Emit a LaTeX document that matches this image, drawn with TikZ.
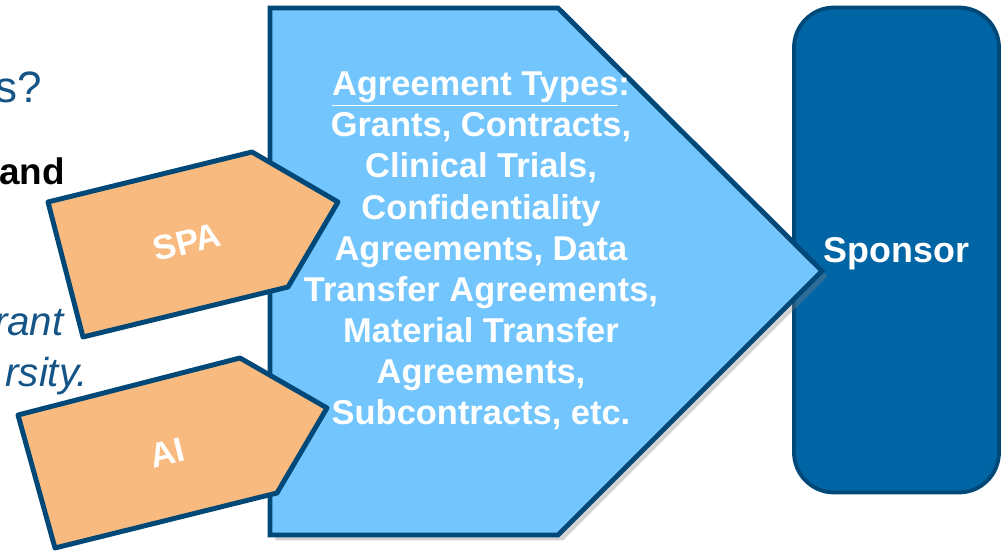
\documentclass[tikz,border=0pt]{standalone}
\usepackage{fontspec}
\setmainfont{Liberation Sans}
\usepackage{tikz}
\usetikzlibrary{shadows,positioning}
\definecolor{navy}{RGB}{0,72,120}
\definecolor{skyfill}{RGB}{115,198,253}
\definecolor{tabfill}{RGB}{248,186,126}
\definecolor{sponsorfill}{RGB}{0,101,164}
\definecolor{leadblue}{RGB}{20,84,134}

\begin{document}
\begin{tikzpicture}[x=0.02cm,y=-0.02cm,
  leadtext/.style={anchor=base east,inner sep=0pt,text=leadblue},
  bigarrow/.style={fill=skyfill,draw=navy,line width=2.8pt,
    drop shadow={shadow xshift=3pt,shadow yshift=-3pt,opacity=0.35}},
  tabshape/.style={fill=tabfill,draw=navy,line width=2.8pt,line join=round},
  whitetext/.style={text=white,font=\bfseries\fontsize{19.6}{23.4}\selectfont,align=center,inner sep=0pt},
  sponsorbox/.style={fill=sponsorfill,draw=navy,line width=2.2pt,rounded corners=0.8cm,
    minimum width=4.1cm,minimum height=9.7cm,text height=14.7pt,text depth=0pt,
    text=white,font=\bfseries\fontsize{20.4}{24}\selectfont}]
\useasboundingbox (0,0) rectangle (1002,553);

% text at the left, cut by the page edge
\node[leadtext,font=\fontsize{25}{30}\selectfont] (query) at (42,103) {s?};
\node[leadtext,text=black,font=\bfseries\fontsize{21}{25}\selectfont] (andword) at (65,185) {and};
\node[leadtext,font=\itshape\fontsize{23}{27}\selectfont] (grant) at (64,336) {rant};
\node[leadtext,font=\itshape\fontsize{23}{27}\selectfont] (univ) at (88,387) {rsity.};

% sponsor box
\node[sponsorbox] (sponsor) at (896.5,250) {Sponsor};

% big arrow with the agreement types
\draw[bigarrow] (270,8) -- (558,8) -- (822,271) -- (558,535) -- (270,535) -- cycle;
\node[whitetext] (types) at (481,251) {\underline{Agreement Types}:\\ Grants, Contracts,\\ Clinical Trials,\\
  Confidentiality\\ Agreements, Data\\ Transfer Agreements,\\ Material Transfer\\ Agreements,\\ Subcontracts, etc.};

% the two tabs
\draw[tabshape] (48,202) -- (252,152) -- (338,202) -- (288,287) -- (83,337) -- cycle;
\node[whitetext,rotate=14] (spa) at (187,242) {SPA};
\draw[tabshape] (18,415) -- (240,358) -- (327,408) -- (277,493) -- (55,548) -- cycle;
\node[whitetext,rotate=14] (ai) at (167,453) {AI};
\end{tikzpicture}
\end{document}
